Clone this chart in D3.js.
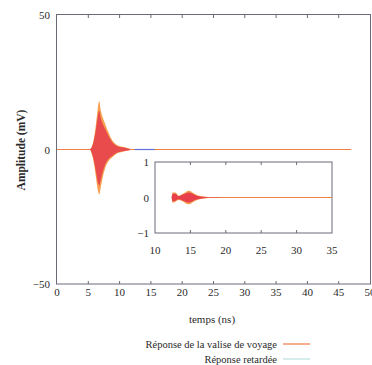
<!DOCTYPE html>
<html><head><meta charset="utf-8">
<script src="https://cdn.jsdelivr.net/npm/d3@7"></script>
<style>body{margin:0;background:#fff}svg{display:block}</style>
</head><body>
<script>
// Main plot: envelope of "Réponse de la valise de voyage" (mV)
const mainTime  = [5.3, 5.8, 6.2, 6.5, 6.75, 7.0, 7.3, 7.7, 8.2, 8.8, 9.5, 10.5, 11.5, 12.0];
const mainUpper = [0, 3, 9, 15, 18, 14.5, 12, 9.5, 6.5, 3.5, 1.8, 1.0, 0.4, 0];
const mainLower = [0, -4, -10, -15, -16.7, -14, -10.5, -7, -4.5, -3, -1.6, -0.8, -0.3, 0];
// Delayed response envelope (mV) — shown in the inset
const insetTime  = [12.35, 12.5, 12.9, 13.3, 13.8, 14.3, 14.7, 15.0, 15.3, 16.0, 17.2, 18.0, 19.0];
const insetUpper = [0, 0.14, 0.14, 0.05, 0.09, 0.15, 0.19, 0.18, 0.14, 0.06, 0.02, 0.01, 0.005];
const insetLower = [0, -0.15, -0.12, -0.07, -0.1, -0.16, -0.19, -0.18, -0.14, -0.07, -0.02, -0.01, -0.005];
const traceEnd = 47;          // ns, end of main trace
const insetEnd = 35;          // ns, end of inset trace
const mainXTicks = [0,5,10,15,20,25,30,35,40,45,50];
const mainYTicks = [-50, 0, 50];
const insetXTicks = [10,15,20,25,30,35];
const insetYTicks = [-1, 0, 1];
const legendLabels = ["Réponse de la valise de voyage", "Réponse retardée"];
const legendColors = ["#f07848", "#b8e0dc"];

const FONT = "'Times New Roman', 'Liberation Serif', Times, serif";
const W = 372, H = 365;
const svg = d3.select("body").append("svg").attr("width", W).attr("height", H)
  .style("font-family", FONT);
const txt = (sel) => sel.style("font-family", FONT).attr("fill", "#2a2a2a");

const x = d3.scaleLinear().domain([0, 50]).range([57, 370]);
const y = d3.scaleLinear().domain([-50, 50]).range([284, 15]);

svg.append("rect").attr("x", 56.5).attr("y", 14.5).attr("width", 314).attr("height", 269.5)
  .attr("fill", "none").attr("stroke", "#6a6a7a").attr("stroke-width", 1);

mainXTicks.slice(1, -1).forEach(t => {
  svg.append("line").attr("x1", x(t)).attr("x2", x(t)).attr("y1", 15).attr("y2", 18).attr("stroke", "#6a6a7a");
  svg.append("line").attr("x1", x(t)).attr("x2", x(t)).attr("y1", 284).attr("y2", 281).attr("stroke", "#6a6a7a");
});
mainXTicks.forEach(t => txt(svg.append("text")).attr("x", x(t)).attr("y", 296).attr("text-anchor", "middle")
  .attr("font-size", 11).text(t));
mainYTicks.forEach(v => txt(svg.append("text")).attr("x", 50).attr("y", y(v) + 4).attr("text-anchor", "end")
  .attr("font-size", 11).text(v < 0 ? "\u2212" + Math.abs(v) : v));

txt(svg.append("text")).attr("x", 212).attr("y", 323).attr("text-anchor", "middle").attr("font-size", 11).text("temps (ns)");
txt(svg.append("text")).attr("transform", "translate(25,150) rotate(-90)").attr("text-anchor", "middle")
  .attr("font-size", 11.5).attr("font-weight", "bold").text("Amplitude (mV)");

svg.append("line").attr("x1", x(0)).attr("x2", x(traceEnd)).attr("y1", y(0)).attr("y2", y(0))
  .attr("stroke", "#f08040").attr("stroke-width", 1.2);
svg.append("line").attr("x1", x(12.4)).attr("x2", x(15.6)).attr("y1", y(0)).attr("y2", y(0))
  .attr("stroke", "#6070e0").attr("stroke-width", 1.2);

const mainData = mainTime.map((t, i) => ({t, u: mainUpper[i], l: mainLower[i]}));
const areaMain = d3.area().x(d => x(d.t)).y0(d => y(d.l)).y1(d => y(d.u)).curve(d3.curveMonotoneX);
svg.append("path").datum(mainData).attr("d", areaMain).attr("fill", "#f5a050");
const areaMainInner = d3.area().x(d => x(d.t)).y0(d => y(d.l * 0.8)).y1(d => y(d.u * 0.8)).curve(d3.curveMonotoneX);
svg.append("path").datum(mainData).attr("d", areaMainInner).attr("fill", "#e8404a").attr("opacity", 0.9);

const xi = d3.scaleLinear().domain([10, 35]).range([155, 332]);
const yi = d3.scaleLinear().domain([-1, 1]).range([233, 162]);
svg.append("rect").attr("x", 155).attr("y", 162).attr("width", 177).attr("height", 71)
  .attr("fill", "#fff").attr("stroke", "#6a6a7a").attr("stroke-width", 1);
insetXTicks.slice(1, -1).forEach(t => {
  svg.append("line").attr("x1", xi(t)).attr("x2", xi(t)).attr("y1", 162).attr("y2", 165).attr("stroke", "#6a6a7a");
  svg.append("line").attr("x1", xi(t)).attr("x2", xi(t)).attr("y1", 233).attr("y2", 230).attr("stroke", "#6a6a7a");
});
insetXTicks.forEach(t => txt(svg.append("text")).attr("x", xi(t)).attr("y", 254).attr("text-anchor", "middle")
  .attr("font-size", 11).text(t));
insetYTicks.forEach(v => txt(svg.append("text")).attr("x", 149).attr("y", yi(v) + 4).attr("text-anchor", "end")
  .attr("font-size", 11).text(v < 0 ? "\u2212" + Math.abs(v) : v));
svg.append("line").attr("x1", xi(insetTime[0])).attr("x2", xi(insetEnd)).attr("y1", yi(0)).attr("y2", yi(0))
  .attr("stroke", "#f08040").attr("stroke-width", 1.2);
const insetData = insetTime.map((t, i) => ({t, u: insetUpper[i], l: insetLower[i]}));
const areaI = d3.area().x(d => xi(d.t)).y0(d => yi(d.l)).y1(d => yi(d.u)).curve(d3.curveMonotoneX);
svg.append("path").datum(insetData).attr("d", areaI).attr("fill", "#f5a050");
const areaI2 = d3.area().x(d => xi(d.t)).y0(d => yi(d.l * 0.75)).y1(d => yi(d.u * 0.75)).curve(d3.curveMonotoneX);
svg.append("path").datum(insetData).attr("d", areaI2).attr("fill", "#e8404a");

legendLabels.forEach((lab, i) => {
  const yy = 344 + i * 15;
  txt(svg.append("text")).attr("x", 277).attr("y", yy + 3.5).attr("text-anchor", "end").attr("font-size", 10.5).text(lab);
  svg.append("line").attr("x1", 283).attr("x2", 310).attr("y1", yy).attr("y2", yy)
    .attr("stroke", legendColors[i]).attr("stroke-width", 1.2);
});
</script>
</body></html>
